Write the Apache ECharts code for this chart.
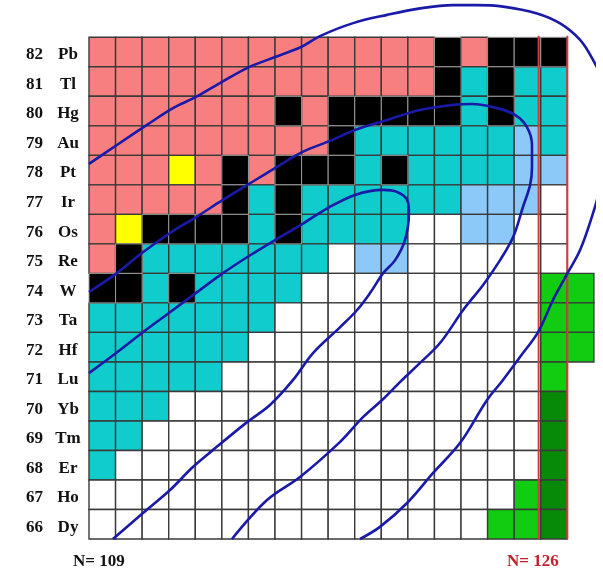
<!DOCTYPE html>
<html><head><meta charset="utf-8">
<script src="https://cdn.jsdelivr.net/npm/echarts@6/dist/echarts.min.js"></script>
<style>html,body{margin:0;padding:0;background:#fff}#c{width:603px;height:573px}</style>
</head><body><div id="c"></div>
<script>
// Proton numbers (top to bottom) and element symbols
const zValues = [82,81,80,79,78,77,76,75,74,73,72,71,70,69,68,67,66];
const symbols = ['Pb','Tl','Hg','Au','Pt','Ir','Os','Re','W','Ta','Hf','Lu','Yb','Tm','Er','Ho','Dy'];
// Neutron numbers, one per column
const nValues = [109,110,111,112,113,114,115,116,117,118,119,120,121,122,123,124,125,126,127];
// Cell types per row (Z=82 .. 66), one character per N column; '.' = no cell
const cellRows = [
  'PPPPPPPPPPPPPKPKKK.',
  'PPPPPPPPPPPPPKCKCC.',
  'PPPPPPPKPKKKKKCKCC.',
  'PPPPPPPPPKCCCCCCLC.',
  'PPPYPKPKKKCKCCCCLL.',
  'PPPPPKCKCCCCCCLLLW.',
  'PYKKKKCKCCCCWWLLWW.',
  'PKCCCCCCCWLLWWWWWW.',
  'KKCKCCCCWWWWWWWWWGG',
  'CCCCCCCWWWWWWWWWWGG',
  'CCCCCCWWWWWWWWWWWGG',
  'CCCCCWWWWWWWWWWWWG.',
  'CCCWWWWWWWWWWWWWWD.',
  'CCWWWWWWWWWWWWWWWD.',
  'CWWWWWWWWWWWWWWWWD.',
  'WWWWWWWWWWWWWWWWGD.',
  'WWWWWWWWWWWWWWWGGD.'
];
const typeCodes = ['P','K','C','L','Y','W','G','D'];
const typeColors = ['#f77f7f','#000000','#11cccc','#8cc8f8','#ffff00','#ffffff','#11cc11','#078a07'];
// Magic neutron number
const magicN = 126;
// Hand-drawn contour curves, [N, Z]
const curveA = [[108.5,78.21],[109.55,78.85],[110.68,79.53],[111.66,80.10],[112.53,80.48],[113.43,80.95],[114.52,81.49],[115.50,81.83],[116.48,82.17],[117.19,82.54],[118.44,82.98],[119.72,83.26],[120.96,83.48],[122.20,83.59],[123.10,83.59],[124.08,83.54],[125.36,83.31],[126.23,82.97],[126.98,82.41],[127.47,81.73],[127.81,81.05],[128.03,79.87],[128.03,78.85],[127.96,78.27],[127.85,77.77],[127.47,76.55],[126.98,75.29],[126.49,74.48],[125.96,73.60],[125.40,72.51],[124.72,71.67],[124.08,70.89],[123.48,70.21],[122.46,68.75],[121.45,67.74],[120.47,66.72],[119.45,65.91],[118.70,65.50]];
const curveB = [[108.5,73.87],[109.55,74.51],[110.49,75.19],[111.55,75.87],[112.53,76.41],[113.54,76.99],[114.52,77.53],[115.50,78.07],[116.52,78.61],[117.57,78.99],[118.51,79.36],[119.72,79.70],[120.96,80.04],[122.20,80.21],[122.91,80.24],[123.86,80.10],[124.53,79.87],[124.98,79.46],[125.17,78.85],[125.17,78.10],[125.10,77.50],[124.83,76.75],[124.46,75.73],[123.97,74.95],[123.33,74.11],[122.58,73.26],[121.71,72.14],[120.88,71.40],[120.24,70.85],[119.53,70.21],[118.81,69.63],[117.95,68.79],[116.44,67.60],[115.20,66.82],[113.88,65.50]];
const curveC = [[108.5,71.12],[109.52,71.80],[110.49,72.48],[111.51,73.16],[112.53,73.84],[113.54,74.51],[114.52,75.09],[115.50,75.63],[116.52,76.17],[117.50,76.72],[118.51,77.16],[119.57,77.33],[120.09,77.26],[120.47,76.99],[120.54,76.55],[120.39,75.63],[120.02,74.95],[119.57,74.51],[119.08,73.84],[118.59,73.26],[117.95,72.68],[116.93,71.80],[116.18,70.89],[115.31,70.04],[114.45,69.46],[113.17,68.52],[112.41,67.94],[111.55,67.16],[110.53,66.38],[109.40,65.50]];

const cells = [];
cellRows.forEach((row, ri) => {
  for (let ci = 0; ci < row.length; ci++) {
    const t = typeCodes.indexOf(row[ci]);
    if (t >= 0) cells.push([nValues[ci], zValues[ri], t]);
  }
});
// draw black cells last so their light borders show
cells.sort((a, b) => (a[2] === 1 ? 1 : 0) - (b[2] === 1 ? 1 : 0));

const nMin = nValues[0] - 0.5, nMax = nValues[nValues.length - 1] + 0.5;
const zMin = zValues[zValues.length - 1] - 0.5, zMax = zValues[0] + 0.5;

const chart = echarts.init(document.getElementById('c'), null, {renderer: 'canvas'});
const curveStyle = {color: '#1a1aa8', width: 2.6};
const mkCurve = d => ({type: 'line', data: d, xAxisIndex: 0, yAxisIndex: 0, smooth: 0.35, symbol: 'none', clip: false, lineStyle: curveStyle, z: 5, silent: true});
chart.setOption({
  animation: false,
  backgroundColor: '#ffffff',
  grid: {left: 89, top: 37.3, width: 504.9, height: 501.7},
  xAxis: [{type: 'value', min: nMin, max: nMax, show: false}],
  yAxis: [
    {type: 'value', min: zMin, max: zMax, show: false},
    {type: 'category', position: 'left', data: zValues.slice().reverse(), boundaryGap: true,
     axisLine: {show: false}, axisTick: {show: false}, splitLine: {show: false},
     axisLabel: {margin: 8, padding: [6, 0, 0, 0],
       formatter: (v, i) => '{n|' + v + '}{s|' + symbols[symbols.length - 1 - i] + '}',
       rich: {
         n: {width: 21, align: 'right', fontFamily: 'Liberation Serif', fontWeight: 'bold', fontSize: 17, color: '#111'},
         s: {width: 26, align: 'left', padding: [0, 0, 0, 10], fontFamily: 'Liberation Serif', fontWeight: 'bold', fontSize: 17, color: '#111'}
       }}}
  ],
  series: [
    {type: 'custom', xAxisIndex: 0, yAxisIndex: 0, data: cells, z: 1, silent: true,
     encode: {x: 0, y: 1},
     renderItem: (params, api) => {
       const n = api.value(0), z = api.value(1), t = api.value(2);
       const p0 = api.coord([n - 0.5, z + 0.5]);
       const p1 = api.coord([n + 0.5, z - 0.5]);
       return {type: 'rect', shape: {x: p0[0], y: p0[1], width: p1[0] - p0[0], height: p1[1] - p0[1]},
         style: {fill: typeColors[t], stroke: t === 1 ? '#9a9a9a' : '#3a3a3a', lineWidth: t === 1 ? 1 : 1.4}};
     }},
    {type: 'line', xAxisIndex: 0, yAxisIndex: 0, data: [[magicN - 0.58, zMax + 0.05], [magicN - 0.58, zMin]], symbol: 'none', lineStyle: {color: '#d23c3c', width: 2}, z: 3, silent: true, clip: false},
    {type: 'line', xAxisIndex: 0, yAxisIndex: 0, data: [[magicN + 0.5, zMax + 0.05], [magicN + 0.5, zMin]], symbol: 'none', lineStyle: {color: '#d23c3c', width: 2}, z: 3, silent: true, clip: false},
    mkCurve(curveA), mkCurve(curveB), mkCurve(curveC)
  ],
  graphic: [
    {type: 'text', left: 73, top: 553, style: {text: 'N= ' + nValues[0], fontFamily: 'Liberation Serif', fontWeight: 'bold', fontSize: 17, fill: '#111'}},
    {type: 'text', left: 507, top: 553, style: {text: 'N= ' + magicN, fontFamily: 'Liberation Serif', fontWeight: 'bold', fontSize: 17, fill: '#c0222c'}}
  ]
});
</script></body></html>
